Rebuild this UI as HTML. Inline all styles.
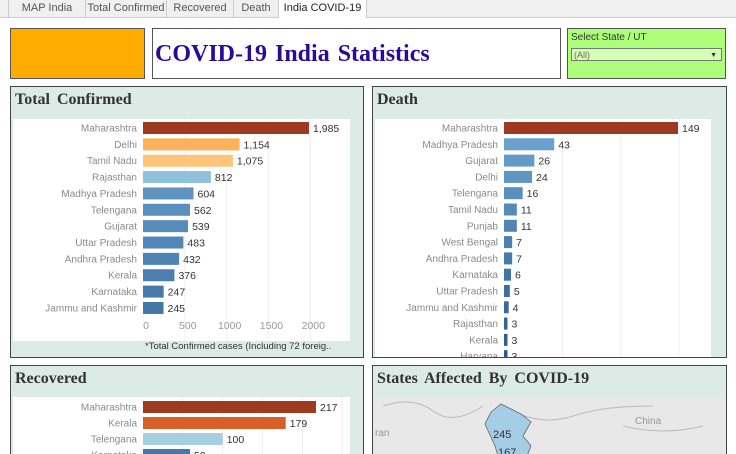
<!DOCTYPE html>
<html><head><meta charset="utf-8"><style>
html,body{margin:0;width:736px;height:454px;overflow:hidden}
body{background:#fff;font-family:"Liberation Sans",sans-serif;position:relative}
.abs{position:absolute}
.tab{position:absolute;top:0;height:17px;font-size:11px;line-height:16px;color:#555;text-align:center;border-right:1px solid #ccc;background:#f0f0f0;box-sizing:border-box}
.panel{position:absolute;border:1px solid #444;background:#ddebe7;box-sizing:border-box;overflow:hidden}
.ph{position:absolute;left:4px;top:4px;font:bold 16px "Liberation Serif",serif;color:#333;word-spacing:3px}
svg text{font-family:"Liberation Sans",sans-serif}
</style></head><body>
<div class="abs" style="left:0;top:0;width:736px;height:17px;background:#f0f0f0;border-bottom:1px solid #ccc"></div>
<div class="tab" style="left:8px;width:78px;border-left:1px solid #ccc">MAP India</div>
<div class="tab" style="left:86px;width:81px">Total Confirmed</div>
<div class="tab" style="left:167px;width:67px">Recovered</div>
<div class="tab" style="left:234px;width:45px">Death</div>
<div class="tab" style="left:279px;width:88px;background:#fff;color:#222;height:18px">India COVID-19</div>

<div class="abs" style="left:10px;top:28px;width:135px;height:51px;background:#ffab00;border:1px solid #555;box-sizing:border-box"></div>
<div class="abs" style="left:152px;top:28px;width:409px;height:51px;border:1px solid #555;box-sizing:border-box;font:bold 24px 'Liberation Serif',serif;color:#2a0a9c;line-height:50px;padding-left:2px;word-spacing:2px">COVID-19 India Statistics</div>
<div class="abs" style="left:567px;top:28px;width:159px;height:51px;background:#adff7a;border:1px solid #555;box-sizing:border-box">
 <div style="font-size:10px;color:#333;margin:3px 0 0 3px">Select State / UT</div>
 <div style="position:absolute;left:3px;top:19px;width:151px;height:13px;background:#d4ffb5;border:1px solid #777;font-size:9px;color:#666;line-height:13px;padding-left:2px;box-sizing:border-box">(All)<span style="position:absolute;right:4px;font-size:7px;color:#333">▼</span></div>
</div>

<div class="panel" style="left:10px;top:86px;width:354px;height:272px">
 <div class="ph">Total Confirmed</div>
 <svg id="c1" width="354" height="272" style="position:absolute;left:0;top:0"></svg>
</div>
<div class="panel" style="left:372px;top:86px;width:355px;height:272px">
 <div class="ph">Death</div>
 <svg id="c2" width="355" height="272" style="position:absolute;left:0;top:0"></svg>
</div>
<div class="panel" style="left:10px;top:365px;width:354px;height:95px">
 <div class="ph">Recovered</div>
 <svg id="c3" width="354" height="100" style="position:absolute;left:0;top:0"></svg>
</div>
<div class="panel" style="left:372px;top:365px;width:355px;height:95px">
 <div class="ph">States Affected By COVID-19</div>
 <svg width="355" height="100" style="position:absolute;left:0;top:0">
  <rect x="1" y="31" width="352" height="70" fill="#e8e8e8"/>
  <path d="M10 40 Q40 30 60 45 T110 40 M140 45 Q170 60 200 50 T280 40 M250 60 Q290 70 330 60" stroke="#bbb" fill="none"/>
  <path d="M118 46 L128 38 L148 48 L158 56 L150 70 L158 80 L150 100 L128 100 L122 80 L112 58 Z" fill="#a5cde6" stroke="#666" stroke-width="0.8"/>
  <text x="120" y="72" font-size="11" fill="#333">245</text>
  <text x="125" y="90" font-size="11" fill="#333">167</text>
  <text x="2" y="70" font-size="10" fill="#999">ran</text>
  <text x="262" y="58" font-size="10" fill="#999">China</text>
 </svg>
</div>

<script>
const tcStates=["Maharashtra","Delhi","Tamil Nadu","Rajasthan","Madhya Pradesh","Telengana","Gujarat","Uttar Pradesh","Andhra Pradesh","Kerala","Karnataka","Jammu and Kashmir"];
const tcValues=[1985,1154,1075,812,604,562,539,483,432,376,247,245];
const tcTicks=[0,500,1000,1500,2000];
const dStates=["Maharashtra","Madhya Pradesh","Gujarat","Delhi","Telengana","Tamil Nadu","Punjab","West Bengal","Andhra Pradesh","Karnataka","Uttar Pradesh","Jammu and Kashmir","Rajasthan","Kerala","Haryana"];
const dValues=[149,43,26,24,16,11,11,7,7,6,5,4,3,3,3];
const dGrid=[50,100,150];
const rStates=["Maharashtra","Kerala","Telengana","Karnataka"];
const rValues=[217,179,100,59];
const rGrid=[50,100,150,200,250];

const NS="http://www.w3.org/2000/svg";
function mk(svg,tag,attrs){const e=document.createElementNS(NS,tag);for(const k in attrs)e.setAttribute(k,attrs[k]);svg.appendChild(e);return e;}
function blue(i,n,end){const t=i/Math.max(1,n-1);const a=[110,165,208];return `rgb(${a.map((v,j)=>Math.round(v+(end[j]-v)*t)).join(',')})`;}
function color(kind,name,v,i,n,end){
 if(name==="Maharashtra")return "#9e3a22";
 if(kind==="tc"){if(name==="Delhi")return "#fdb15a";if(name==="Tamil Nadu")return "#fdc47a";if(name==="Rajasthan")return "#8fc1de";}
 if(kind==="r"){if(name==="Kerala")return "#d95f27";if(name==="Telengana")return "#a6cfe3";}
 return blue(i,n,end);
}
function chart(id,kind,states,values,grid,o){
 const svg=document.getElementById(id);
 mk(svg,'rect',{x:o.px,y:o.py,width:o.pw,height:o.ph,fill:'#fff'});
 const x=v=>o.x0+v*o.k;
 grid.forEach(g=>{const l=mk(svg,'line',{x1:x(g),x2:x(g),y1:o.py,y2:o.py+o.ph,stroke:'#eee'});});
 states.forEach((s,i)=>{
  const cy=o.y0+i*o.step;
  const t=mk(svg,'text',{x:o.x0-6,y:cy+3.5,'font-size':10,fill:'#8a8a8a','text-anchor':'end'});t.textContent=s;
  
  
  const r=mk(svg,'rect',{x:o.x0,y:cy-6,width:Math.max(1.5,values[i]*o.k),height:12,fill:color(kind,s,values[i],i,states.length,o.end)});
  
  
  const v=mk(svg,'text',{x:x(values[i])+4,y:cy+4,'font-size':10.5,fill:'#333'});v.textContent=values[i].toLocaleString('en-US');
  
  
 });
}
const c1=document.getElementById('c1');
chart('c1','tc',tcStates,tcValues,tcTicks.slice(1),{px:2,py:32,pw:337,ph:222,x0:132,k:166/1985,y0:41,step:16.36,end:[68,118,168]});
tcTicks.forEach(t=>{const e=mk(c1,'text',{x:132+t*166/1985+3,y:242,'font-size':10.5,fill:'#999','text-anchor':'middle'});e.textContent=t;});
const fn=mk(c1,'text',{x:134,y:262,'font-size':9.5,fill:'#333'});fn.textContent="*Total Confirmed cases (Including 72 foreig..";


chart('c2','d',dStates,dValues,dGrid,{px:2,py:32,pw:336,ph:240,x0:131,k:174/149,y0:41,step:16.3,end:[40,90,145]});
chart('c3','r',rStates,rValues,rGrid,{px:2,py:31,pw:337,ph:70,x0:132,k:173/217,y0:41,step:16,end:[70,120,170]});
</script>
</body></html>
